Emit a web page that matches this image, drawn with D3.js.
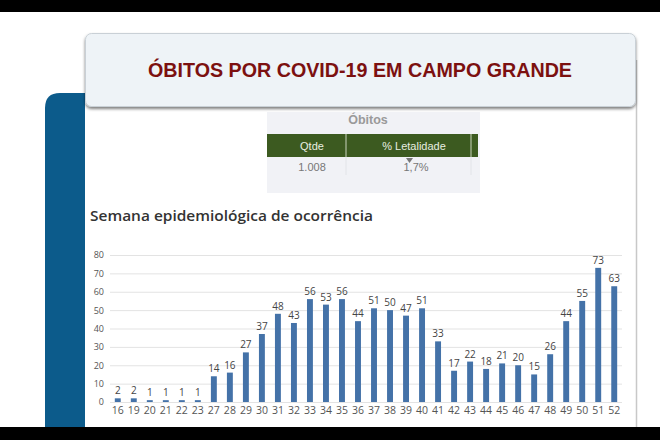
<!DOCTYPE html>
<html><head><meta charset="utf-8">
<script src="https://cdn.jsdelivr.net/npm/d3@7"></script>
<style>
html,body{margin:0;padding:0;background:#fff;}
svg{display:block;}
</style></head>
<body>
<svg id="c" width="660" height="440"></svg>
<script>
const weeks = ["16","19","20","21","22","23","27","28","29","30","31","32","33","34","35","36","37","38","39","40","41","42","43","44","45","46","47","48","49","50","51","52"];
const deaths = [2,2,1,1,1,1,14,16,27,37,48,43,56,53,56,44,51,50,47,51,33,17,22,18,21,20,15,26,44,55,73,63];
const yTicks = [0,10,20,30,40,50,60,70,80];
const title = "ÓBITOS POR COVID-19 EM CAMPO GRANDE";
const subtitle = "Semana epidemiológica de ocorrência";
const tableHeader = "Óbitos";
const tableCols = ["Qtde","% Letalidade"];
const tableRow = ["1.008","1,7%"];

const svg = d3.select("#c");
const defs = svg.append("defs");
const f = defs.append("filter").attr("id","sh").attr("x","-5%").attr("y","-10%").attr("width","110%").attr("height","130%");
f.append("feDropShadow").attr("dx",0).attr("dy",2).attr("stdDeviation",1.5).attr("flood-color","#000").attr("flood-opacity",0.5);

svg.append("rect").attr("x",0).attr("y",0).attr("width",660).attr("height",440).attr("fill","#fff");
svg.append("path").attr("d","M45,440 L45,108 Q45,93 60,93 L90,93 L90,440 Z").attr("fill","#0c5b8b");
svg.append("rect").attr("x",85).attr("y",60).attr("width",551).attr("height",380).attr("fill","#fff");
svg.append("line").attr("x1",636.5).attr("x2",636.5).attr("y1",60).attr("y2",440).attr("stroke","#c8c8c8").attr("stroke-width",1.5);

svg.append("rect").attr("x",85.5).attr("y",33.5).attr("width",550).attr("height",73).attr("rx",6)
  .attr("fill","#eef3f7").attr("stroke","#c9d0d6").attr("filter","url(#sh)");
svg.append("text").attr("x",360).attr("y",77).attr("text-anchor","middle")
  .attr("font-family","Liberation Sans, Arial, sans-serif").attr("font-weight","bold").attr("font-size",19.5)
  .attr("fill","#7c1010").attr("textLength",424).attr("lengthAdjust","spacingAndGlyphs").text(title);

const tg = svg.append("g");
tg.append("rect").attr("x",267).attr("y",112).attr("width",213).attr("height",81).attr("fill","#f1f2f6");
tg.append("text").attr("x",368).attr("y",124).attr("text-anchor","middle")
  .attr("font-family","Liberation Sans, Arial, sans-serif").attr("font-weight","bold").attr("font-size",12.5)
  .attr("fill","#9a9a9a").text(tableHeader);
tg.append("rect").attr("x",267).attr("y",134).attr("width",211).attr("height",23).attr("fill","#3c5a20");
[346,471].forEach(x=>{
  tg.append("line").attr("x1",x).attr("x2",x).attr("y1",134).attr("y2",157).attr("stroke","#c8d3bc").attr("stroke-width",1);
  tg.append("line").attr("x1",x).attr("x2",x).attr("y1",157).attr("y2",175).attr("stroke","#e2e4e8").attr("stroke-width",1);
});
const colX = [312,414];
tableCols.forEach((t,i)=>tg.append("text").attr("x",colX[i]).attr("y",149.5).attr("text-anchor","middle")
  .attr("font-family","Liberation Sans, Arial, sans-serif").attr("font-size",11).attr("fill","#e8eee0").text(t));
tableRow.forEach((t,i)=>tg.append("text").attr("x",colX[i]+(i?2:0)).attr("y",171).attr("text-anchor","middle")
  .attr("font-family","Liberation Sans, Arial, sans-serif").attr("font-size",11).attr("fill","#777").text(t));
tg.append("path").attr("d","M406,158 L413,158 L409.5,163 Z").attr("fill","#777");

svg.append("text").attr("x",90).attr("y",221).attr("font-family","Open Sans, sans-serif").attr("font-weight",600)
  .attr("font-size",15).attr("fill","#333").attr("textLength",283).attr("lengthAdjust","spacingAndGlyphs").text(subtitle);

const x = d3.scaleBand().domain(weeks).range([110,622]).paddingInner(0.63).paddingOuter(0.3);
const y = d3.scaleLinear().domain([0,80]).range([402,255]);

svg.append("g").selectAll("line").data(yTicks).join("line")
  .attr("x1",110).attr("x2",622).attr("y1",d=>y(d)+0.5).attr("y2",d=>y(d)+0.5)
  .attr("stroke","#e3e3e3").attr("stroke-width",1);

const yAxis = svg.append("g").attr("transform","translate(104,0)")
  .call(d3.axisLeft(y).tickValues(yTicks).tickSize(0).tickPadding(0));
yAxis.select(".domain").remove();
yAxis.selectAll("text").attr("font-family","Open Sans, sans-serif").attr("font-size",9).attr("fill","#555");

const xAxis = svg.append("g").attr("transform","translate(0,406)")
  .call(d3.axisBottom(x).tickSize(0).tickPadding(0));
xAxis.select(".domain").remove();
xAxis.selectAll("text").attr("font-family","Open Sans, sans-serif").attr("font-size",10.5).attr("fill","#555").attr("dy","0.8em");

svg.append("g").selectAll("rect").data(weeks).join("rect")
  .attr("x",(d)=>x(d)).attr("width",x.bandwidth())
  .attr("y",(d,i)=>y(deaths[i])).attr("height",(d,i)=>y(0)-y(deaths[i]))
  .attr("fill","#4472a8");

svg.append("g").selectAll("text").data(weeks).join("text")
  .attr("x",d=>x(d)+x.bandwidth()/2).attr("y",(d,i)=>y(deaths[i])-4)
  .attr("text-anchor","middle").attr("font-family","Open Sans, sans-serif").attr("font-size",10).attr("fill","#444")
  .text((d,i)=>deaths[i]);

svg.append("rect").attr("x",0).attr("y",0).attr("width",660).attr("height",12).attr("fill","#000");
svg.append("rect").attr("x",0).attr("y",427).attr("width",660).attr("height",13).attr("fill","#000");
</script>
</body></html>
